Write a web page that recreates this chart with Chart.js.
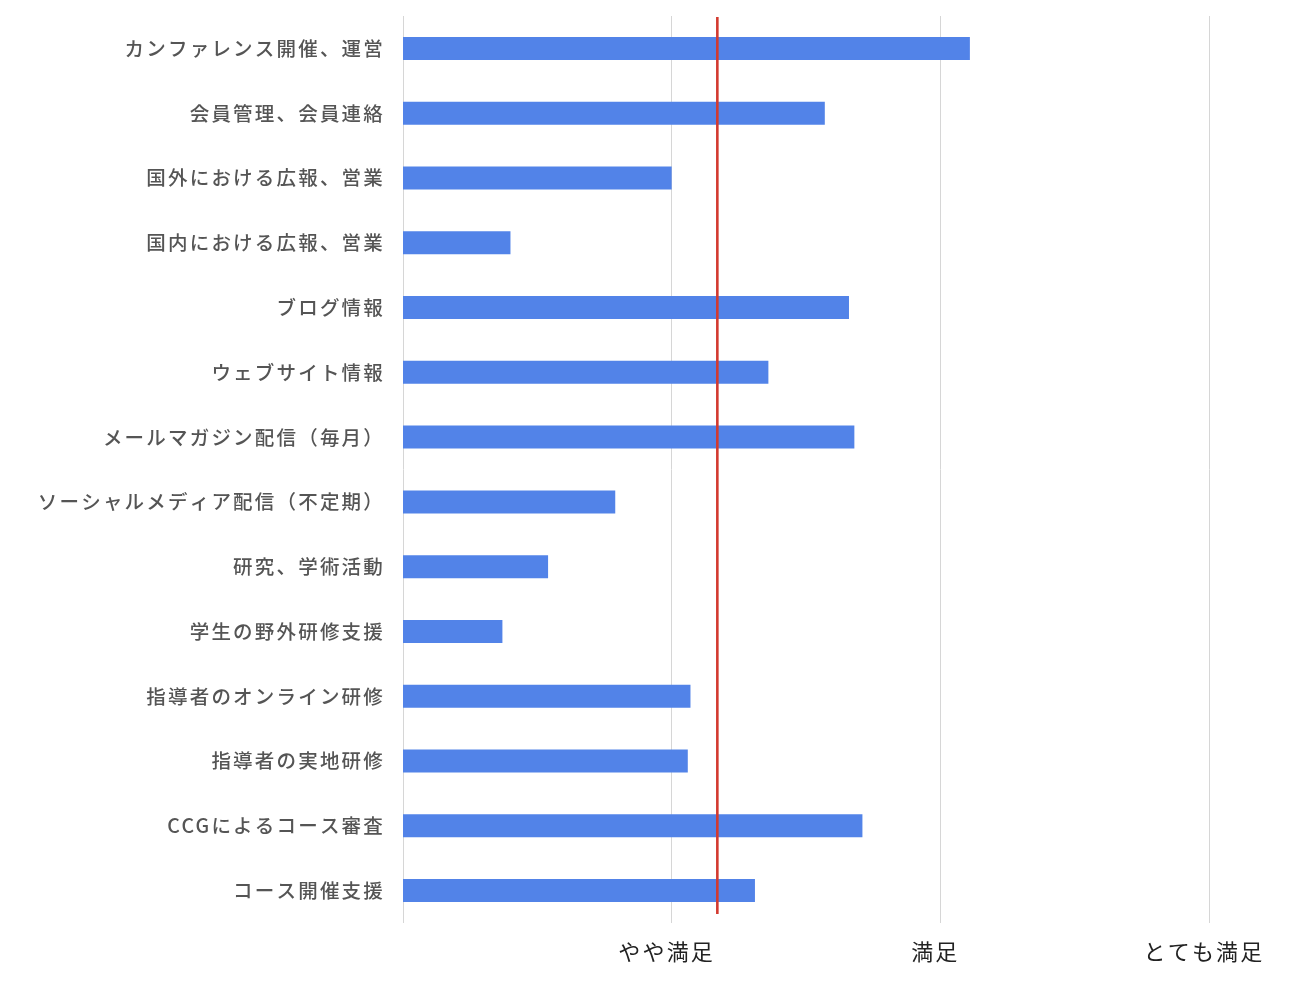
<!DOCTYPE html>
<html>
<head>
<meta charset="utf-8">
<script src="https://cdn.jsdelivr.net/npm/chart.js@4/dist/chart.umd.min.js"></script>
<style>
html,body{margin:0;padding:0;background:#fff;}
#wrap{width:1300px;height:988px;position:relative;}
</style>
</head>
<body>
<div id="wrap"><canvas id="c"></canvas></div>
<script>
const categories = [
  "カンファレンス開催、運営",
  "会員管理、会員連絡",
  "国外における広報、営業",
  "国内における広報、営業",
  "ブログ情報",
  "ウェブサイト情報",
  "メールマガジン配信（毎月）",
  "ソーシャルメディア配信（不定期）",
  "研究、学術活動",
  "学生の野外研修支援",
  "指導者のオンライン研修",
  "指導者の実地研修",
  "CCGによるコース審査",
  "コース開催支援"
];
const scores = [3.11, 2.57, 2.00, 1.40, 2.66, 2.36, 2.68, 1.79, 1.54, 1.37, 2.07, 2.06, 2.71, 2.31];
const averageLine = 2.17;
const tickValues = [1, 2, 3, 4];
const tickLabels = ["", "やや満足", "満足", "とても満足"];

function setSpacing(chart){ chart.ctx.letterSpacing = '2.2px'; }

const refLine = {
  id: 'refLine',
  beforeLayout: setSpacing,
  beforeDraw: setSpacing,
  afterDatasetsDraw(chart){
    const ctx = chart.ctx, x = chart.scales.x.getPixelForValue(averageLine);
    const a = chart.chartArea;
    ctx.save();
    ctx.strokeStyle = '#d33a2f';
    ctx.lineWidth = 2.6;
    ctx.beginPath();
    ctx.moveTo(x, a.top + 1);
    ctx.lineTo(x, a.bottom - 9);
    ctx.stroke();
    ctx.restore();
  }
};

new Chart(document.getElementById('c'), {
  type: 'bar',
  data: {
    labels: categories,
    datasets: [{
      data: scores,
      backgroundColor: '#5283e8',
      borderWidth: 0,
      categoryPercentage: 1,
      barPercentage: 0.355
    }]
  },
  options: {
    indexAxis: 'y',
    responsive: true,
    maintainAspectRatio: false,
    animation: false,
    layout: { padding: { top: 16, right: 91, bottom: 0, left: 0 } },
    plugins: { legend: { display: false }, tooltip: { enabled: false } },
    scales: {
      x: {
        min: 1, max: 4,
        afterBuildTicks(scale){ scale.ticks = tickValues.map(v => ({value: v})); },
        afterFit(scale){ scale.height = 65; scale.paddingLeft = 0; scale.paddingRight = 0; },
        grid: { color: '#d6d6d6', lineWidth: 1, drawTicks: false },
        border: { display: false },
        ticks: {
          padding: 15,
          labelOffset: -5,
          color: '#222',
          font: { family: '"Noto Sans CJK JP", "Noto Sans", sans-serif', size: 22 },
          maxRotation: 0,
          callback(v){ const i = tickValues.indexOf(v); return i >= 0 ? tickLabels[i] : ''; }
        }
      },
      y: {
        afterFit(scale){ scale.width = 403; scale.paddingTop = 0; scale.paddingBottom = 0; },
        grid: { display: false, drawTicks: false },
        border: { display: false },
        ticks: {
          padding: 18,
          color: '#555',
          font: { family: '"Noto Sans CJK JP", "Noto Sans", sans-serif', size: 19.5, weight: 500 }
        }
      }
    }
  },
  plugins: [refLine]
});
</script>
</body>
</html>
